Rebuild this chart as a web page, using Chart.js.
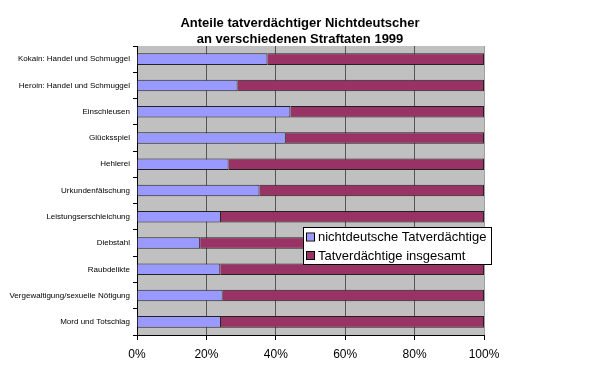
<!DOCTYPE html>
<html>
<head>
<meta charset="utf-8">
<script src="https://cdn.jsdelivr.net/npm/chart.js@4"></script>
<style>
  html, body { margin: 0; padding: 0; background: #fff; }
  #wrap { width: 600px; height: 372px; }
</style>
</head>
<body>
<div id="wrap"><canvas id="chart_straftaten"></canvas></div>
<script>
const categories = [
  'Kokain: Handel und Schmuggel',
  'Heroin: Handel und Schmuggel',
  'Einschleusen',
  'Glücksspiel',
  'Hehlerei',
  'Urkundenfälschung',
  'Leistungserschleichung',
  'Diebstahl',
  'Raubdelikte',
  'Vergewaltigung/sexuelle Nötigung',
  'Mord und Totschlag'
];
// share of each bar in percent
const nichtdeutsche = [37.6, 29.0, 44.2, 42.9, 26.4, 35.3, 24.2, 18.2, 24.0, 24.7, 24.2];
const insgesamt     = [62.4, 71.0, 55.8, 57.1, 73.6, 64.7, 75.8, 81.8, 76.0, 75.3, 75.8];
const xTicks = [0, 20, 40, 60, 80, 100];

const titleLines = ['Anteile tatverdächtiger Nichtdeutscher', 'an verschiedenen Straftaten 1999'];
const seriesLabels = ['nichtdeutsche Tatverdächtige', 'Tatverdächtige insgesamt'];
const seriesColors = ['#9999FF', '#993366'];
const font = "'Liberation Sans', Arial, sans-serif";

const plotBackground = {
  id: 'plotBackground',
  beforeDraw(chart) {
    let { ctx, chartArea: a } = chart;
    ctx.save();
    ctx.fillStyle = '#C0C0C0';
    ctx.fillRect(a.left, a.top, a.right - a.left, a.bottom - a.top);
    ctx.restore();
  }
};

// title centred on the whole canvas, not on the plot
const pageTitle = {
  id: 'pageTitle',
  afterDraw(chart) {
    let ctx = chart.ctx;
    ctx.save();
    ctx.font = 'bold 13px ' + font;
    ctx.fillStyle = '#000';
    ctx.textAlign = 'center';
    ctx.textBaseline = 'middle';
    titleLines.forEach((t, i) => ctx.fillText(t, chart.width / 2, 23.5 + i * 15.5));
    ctx.restore();
  }
};

// Excel-like legend box sitting over the plot
const boxLegend = {
  id: 'boxLegend',
  afterDraw(chart) {
    let ctx = chart.ctx;
    let x = 303, y = 227, w = 188, h = 37;
    ctx.save();
    ctx.fillStyle = '#fff';
    ctx.fillRect(x, y, w, h);
    ctx.strokeStyle = '#000';
    ctx.lineWidth = 1;
    ctx.strokeRect(x + 0.5, y + 0.5, w, h);
    ctx.font = '13px ' + font;
    ctx.textBaseline = 'middle';
    chart.data.datasets.forEach((ds, i) => {
      let cy = y + 10 + i * 18.5;
      ctx.fillStyle = ds.backgroundColor;
      ctx.fillRect(x + 4, cy - 3.5, 7, 7);
      ctx.strokeStyle = '#000';
      ctx.strokeRect(x + 3.5, cy - 4, 8, 8);
      ctx.fillStyle = '#000';
      ctx.fillText(ds.label, x + 15, cy + 0.5);
    });
    ctx.restore();
  }
};

let data = {
  labels: categories,
  datasets: [
    { label: seriesLabels[0], data: nichtdeutsche, backgroundColor: seriesColors[0] },
    { label: seriesLabels[1], data: insgesamt, backgroundColor: seriesColors[1] }
  ]
};

let options = {
  indexAxis: 'y',
  responsive: false,
  animation: false,
  layout: { padding: { left: 0, right: 116, top: 46, bottom: 0 } },
  datasets: {
    bar: {
      barPercentage: 0.44,
      categoryPercentage: 1,
      borderColor: '#222',
      borderWidth: 1
    }
  },
  plugins: {
    legend: { display: false },
    tooltip: { enabled: false },
    title: { display: false }
  },
  scales: {
    x: {
      stacked: true,
      min: 0,
      max: 100,
      afterBuildTicks: (scale) => { scale.ticks = xTicks.map(v => ({ value: v })); },
      afterFit: (scale) => { scale.height = 37; },
      ticks: {
        color: '#000',
        font: { family: font, size: 12 },
        padding: 7,
        maxRotation: 0,
        callback: (v) => v + '%'
      },
      grid: {
        color: (c) => c.tick && c.tick.value === 100 ? '#A0A0A0' : '#555',
        tickColor: '#000',
        tickLength: 5
      },
      border: { color: '#000' }
    },
    y: {
      stacked: true,
      afterFit: (scale) => { scale.width = 137; },
      ticks: {
        color: '#000',
        font: { family: font, size: 8 },
        padding: 3,
        autoSkip: false
      },
      grid: {
        offset: true,
        drawOnChartArea: false,
        tickColor: '#000',
        tickLength: 4
      },
      border: { color: '#000' }
    }
  }
};

let canvas = document.getElementById('chart_straftaten');
canvas.width = 600;
canvas.height = 372;
new Chart(canvas, { type: 'bar', plugins: [plotBackground, pageTitle, boxLegend], data, options });
</script>
</body>
</html>
